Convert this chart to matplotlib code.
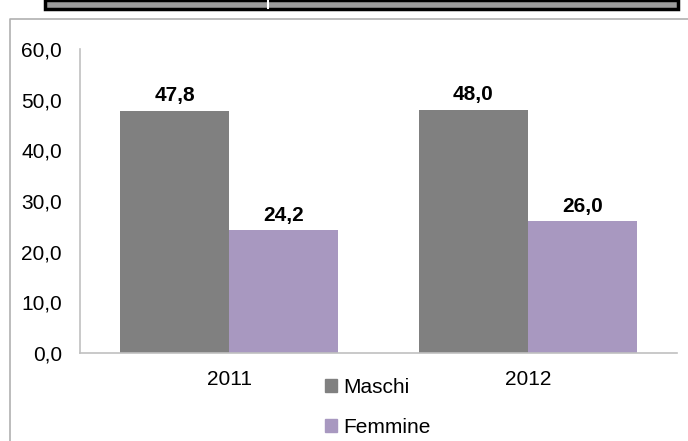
import matplotlib.pyplot as plt
from matplotlib.patches import Rectangle, Patch
from matplotlib.lines import Line2D
import numpy as np

plt.rcParams['font.family'] = ['Liberation Sans', 'DejaVu Sans']

years = ['2011', '2012']
maschi = [47.8, 48.0]
femmine = [24.2, 26.0]
series_names = ['Maschi', 'Femmine']
yticks = [0, 10, 20, 30, 40, 50, 60]

c_m = '#808080'
c_f = '#a898c0'
fs = 15

W, H = 688, 441
fig = plt.figure(figsize=(W / 100, H / 100), dpi=100)

# header strip cut off at the top of the picture
fig.patches.append(Rectangle((45 / W, 1 - 9 / H), 633 / W, 9 / H, transform=fig.transFigure,
                             facecolor='#9c9c9c', edgecolor='black', linewidth=2.5, figure=fig))
fig.lines.append(Line2D([268 / W, 268 / W], [1 - 8 / H, 1], transform=fig.transFigure,
                        color='white', linewidth=1.5))
# chart frame
fig.lines.append(Line2D([10 / W, 10 / W, 1], [0, 1 - 19 / H, 1 - 19 / H], transform=fig.transFigure,
                        color='#b0b0b0', linewidth=1.2))

ax = fig.add_axes([80 / W, (H - 353) / H, (677 - 80) / W, (353 - 49) / H])
x = np.arange(len(years))
w = 0.365
b1 = ax.bar(x - w / 2, maschi, w, color=c_m, label=series_names[0])
b2 = ax.bar(x + w / 2, femmine, w, color=c_f, label=series_names[1])

for bars, vals in ((b1, maschi), (b2, femmine)):
    for r, v in zip(bars, vals):
        ax.text(r.get_x() + r.get_width() / 2, v + 3.0, f'{v:.1f}'.replace('.', ','),
                ha='center', va='center', fontsize=fs, fontweight='bold')

ax.set_xlim(-0.5, 1.5)
ax.set_ylim(0, 60)
ax.set_yticks(yticks)
ax.set_yticklabels([f'{t:.1f}'.replace('.', ',') for t in yticks], fontsize=fs)
ax.set_xticks(x)
ax.set_xticklabels(years, fontsize=fs)
ax.tick_params(length=0)
ax.tick_params(axis='y', pad=13)
ax.tick_params(axis='x', pad=12)
for s in ['top', 'right']:
    ax.spines[s].set_visible(False)
for s in ['left', 'bottom']:
    ax.spines[s].set_color('#c0c0c0')
    ax.spines[s].set_linewidth(1.2)

handles = [Patch(color=c_m), Patch(color=c_f)]
fig.legend(handles, series_names, loc='upper left', bbox_to_anchor=(306 / W, 1 - 359 / H),
           frameon=False, fontsize=fs, handlelength=0.6, handleheight=0.6,
           handletextpad=0.3, labelspacing=1.0)

fig.savefig('out.png', dpi=100)
